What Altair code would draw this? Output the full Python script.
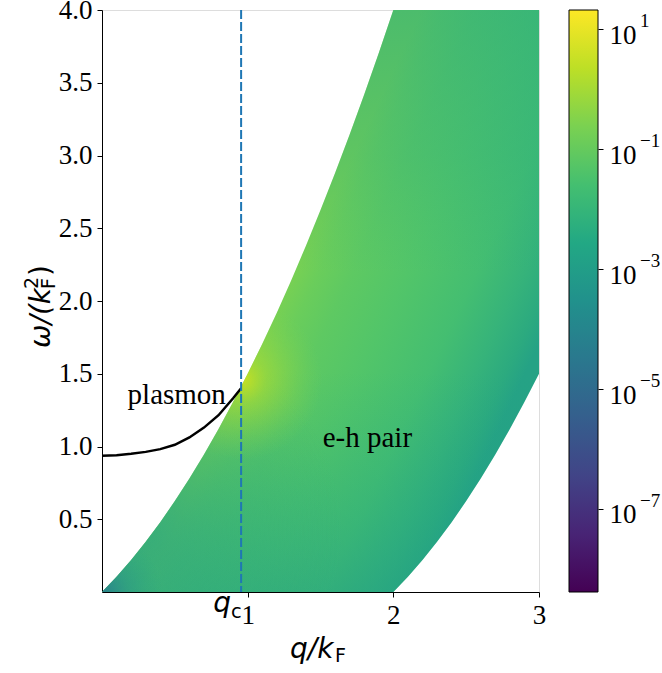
import altair as alt
import pandas as pd

# ---------------- data ----------------
# particle-hole continuum: lower / upper edge of the coloured region
q_grid = [0.0, 0.1, 0.2, 0.3, 0.4, 0.5, 0.6, 0.7, 0.8, 0.9, 1.0,
          1.1, 1.2, 1.3, 1.4, 1.5, 1.6, 1.7, 1.8, 1.9, 2.0,
          2.1, 2.2, 2.3, 2.4, 2.5, 2.6, 2.7, 2.8, 2.9, 3.0]
omega_upper = [0.0, 0.105, 0.22, 0.345, 0.48, 0.625, 0.78, 0.945, 1.12, 1.305, 1.5,
               1.705, 1.92, 2.145, 2.38, 2.625, 2.88, 3.145, 3.42, 3.705, 4.0,
               4.0, 4.0, 4.0, 4.0, 4.0, 4.0, 4.0, 4.0, 4.0, 4.0]
omega_lower = [0.0, 0.0, 0.0, 0.0, 0.0, 0.0, 0.0, 0.0, 0.0, 0.0, 0.0,
               0.0, 0.0, 0.0, 0.0, 0.0, 0.0, 0.0, 0.0, 0.0, 0.0,
               0.105, 0.22, 0.345, 0.48, 0.625, 0.78, 0.945, 1.12, 1.305, 1.5]

# plasmon branch
plasmon_q = [0.0, 0.1, 0.2, 0.3, 0.4, 0.5, 0.6, 0.7, 0.8, 0.9, 0.955]
plasmon_omega = [0.937, 0.940, 0.950, 0.963, 0.982, 1.012, 1.062, 1.13, 1.215, 1.332, 1.40]

# critical momentum q_c
q_c = [0.955]

# annotations
label_text = ["plasmon", "e-h pair"]
label_q = [0.513, 1.822]
label_omega = [1.292, 1.0]

# axes / colour bar
x_ticks = [1, 2, 3]
y_ticks = [0.5, 1.0, 1.5, 2.0, 2.5, 3.0, 3.5, 4.0]
cbar_min, cbar_max = 4.1e-9, 21.1
cbar_ticks = [1e1, 1e-1, 1e-3, 1e-5, 1e-7]
cbar_exponents = ["1", "\u22121", "\u22123", "\u22125", "\u22127"]

viridis = ["#440154", "#482475", "#414487", "#355f8d", "#2a788e", "#21918c",
           "#22a884", "#44bf70", "#7ad151", "#bddf26", "#fde725"]

# ---------------- styling ----------------
W, H = 437, 582
CB_GAP, CB_W = 30, 29
SERIF = "Liberation Serif"
MATH = "DejaVu Sans"

region_df = pd.DataFrame({"q": q_grid, "lo": omega_lower, "hi": omega_upper})
plasmon_df = pd.DataFrame({"q": plasmon_q, "w": plasmon_omega})
qc_df = pd.DataFrame({"q": q_c})
label_df = pd.DataFrame({"t": label_text, "q": label_q, "w": label_omega})

xs = alt.Scale(domain=[0, 3], nice=False, zero=False)
ys = alt.Scale(domain=[0, 4], nice=False, zero=False)
axis_common = dict(labelFont=SERIF, labelFontSize=27, labelColor="black",
                   tickColor="black", domainColor="black", tickSize=5,
                   grid=False, title=None)
x_axis = alt.Axis(values=x_ticks, format="d", labelPadding=5, labelFlush=False, **axis_common)
y_axis = alt.Axis(values=y_ticks, format=".1f", labelPadding=5, **axis_common)


def stops(pairs):
    return [{"offset": o, "color": c} for o, c in pairs]


# radial gradients are laid out in a square pattern covering the plot box
# (side = max(W, H)), hence the pixel -> unit conversion below
SQ = max(W, H)


def rad(px, py):
    return (px + (SQ - W) / 2) / SQ, (py + (SQ - H) / 2) / SQ


def radial(px, py, r, stop_list):
    cx, cy = rad(px, py)
    return {"gradient": "radial", "x1": cx, "y1": cy, "r1": 0,
            "x2": cx, "y2": cy, "r2": r / SQ, "stops": stops(stop_list)}


TEAL = "34,168,132"
grad_main = {"gradient": "linear", "x1": 0.367, "y1": 0.575, "x2": 0.818, "y2": 0.861,
             "stops": stops([(0.0, "#76d054"), (0.08, "#6acd5b"), (0.2, "#5ec962"),
                             (0.4, "#52c569"), (0.65, "#44be71"), (0.82, "#36b37a"),
                             (0.93, "#2caa7f"), (1.0, "#25a285")])}
grad_vert = {"gradient": "linear", "x1": 0, "y1": 0, "x2": 0, "y2": 1,
             "stops": stops([(0.0, f"rgba({TEAL},0.5)"), (0.25, f"rgba({TEAL},0.28)"),
                             (0.45, f"rgba({TEAL},0)"), (0.62, f"rgba({TEAL},0)"),
                             (0.75, "rgba(34,165,130,0.15)"), (0.86, "rgba(34,165,130,0.3)"),
                             (0.93, "rgba(34,162,132,0.4)"), (1.0, "rgba(34,160,132,0.52)")])}
grad_low = radial(40, 520, 200, [(0.0, "rgba(34,160,135,0.6)"), (0.5, "rgba(34,165,132,0.3)"),
                                 (1.0, "rgba(34,165,132,0)")])
grad_peak = radial(140, 370, 80, [(0.0, "rgba(205,225,30,0.95)"), (0.3, "rgba(170,220,50,0.6)"),
                                  (1.0, "rgba(127,211,78,0)")])
grad_corner = radial(0, H, 60, [(0.0, "rgba(40,125,142,0.9)"), (0.45, "rgba(38,145,138,0.45)"),
                                (1.0, "rgba(34,160,135,0)")])

base = alt.Chart(region_df).encode(
    x=alt.X("q:Q", scale=xs, axis=x_axis),
    y=alt.Y("lo:Q", scale=ys, axis=y_axis),
    y2="hi:Q",
)
region_layers = [base.mark_area(color=g)
                 for g in (grad_main, grad_vert, grad_low, grad_peak, grad_corner)]

plasmon = alt.Chart(plasmon_df).mark_line(color="black", strokeWidth=2.5).encode(
    x=alt.X("q:Q", scale=xs), y=alt.Y("w:Q", scale=ys))

qc_rule = alt.Chart(qc_df).mark_rule(color="#1f77b4", strokeWidth=2, strokeDash=[9, 3]).encode(
    x=alt.X("q:Q", scale=xs))

labels = alt.Chart(label_df).mark_text(font=SERIF, fontSize=29, color="black",
                                       align="center", baseline="alphabetic").encode(
    x=alt.X("q:Q", scale=xs), y=alt.Y("w:Q", scale=ys), text="t:N")

# q_c tick label (q with subscript c)
qc_q = alt.Chart(qc_df).mark_text(text="q", font=MATH, fontStyle="italic", fontSize=28,
                                  align="right", baseline="alphabetic", dx=-10, color="black").encode(
    x=alt.X("q:Q", scale=xs), y=alt.value(H + 20))
qc_c = alt.Chart(qc_df).mark_text(text="c", font=MATH, fontSize=19.5,
                                  align="left", baseline="alphabetic", dx=-10, color="black").encode(
    x=alt.X("q:Q", scale=xs), y=alt.value(H + 26))


def txt(s, x, y, size, italic=False, angle=0, dx=0, dy=0):
    kw = dict(text=s, font=MATH, fontSize=size, align="left", baseline="alphabetic",
              color="black", dx=dx, dy=dy)
    if italic:
        kw["fontStyle"] = "italic"
    if angle:
        kw["angle"] = angle
    return alt.Chart(pd.DataFrame({"a": [0]})).mark_text(**kw).encode(
        x=alt.value(x), y=alt.value(y))


# x title  q/k_F
xt = [txt("q/k", 188, H + 66, 28, italic=True), txt("F", 233, H + 70, 19)]
# y title  ω/(k_F^2), rotated
YX, YY = -52, 338
yt = [txt("\u03c9/(k", YX, YY, 28, italic=True, angle=270),
      txt("F", YX, YY, 19, angle=270, dx=59, dy=5),
      txt("2", YX, YY, 19, angle=270, dx=59, dy=-12),
      txt(")", YX, YY, 28, angle=270, dx=72)]

main = alt.layer(*region_layers, plasmon, qc_rule, labels, qc_q, qc_c, *xt, *yt)

# ---------------- colour bar (independent log scale, drawn right of the plot) ----------------
cb_df = pd.DataFrame({"lo": [cbar_min], "hi": [cbar_max]})
exp_df = pd.DataFrame({"v": cbar_ticks, "e": cbar_exponents})
cs = alt.Scale(type="log", domain=[cbar_min, cbar_max], nice=False)
cb_grad = {"gradient": "linear", "x1": 0, "y1": 1, "x2": 0, "y2": 0,
           "stops": stops([(i / 10, c) for i, c in enumerate(viridis)])}
cb_axis = alt.Axis(orient="right", offset=CB_GAP + CB_W, values=cbar_ticks, labelExpr="'10'",
                   labelFont=SERIF, labelFontSize=27, labelColor="black", labelAlign="left",
                   labelBaseline="alphabetic", labelOffset=14, labelPadding=6,
                   tickSize=5, tickColor="black", domain=False, grid=False, title=None)
cb_rect = alt.Chart(cb_df).mark_rect(color=cb_grad, stroke="black", strokeWidth=1).encode(
    y=alt.Y("lo:Q", scale=cs, axis=cb_axis), y2="hi:Q",
    x=alt.value(W + CB_GAP), x2=alt.value(W + CB_GAP + CB_W))
cb_exp = alt.Chart(exp_df).mark_text(font=SERIF, fontSize=19, align="left",
                                     baseline="alphabetic", dy=-2, color="black").encode(
    y=alt.Y("v:Q", scale=cs), x=alt.value(W + CB_GAP + CB_W + 42), text="e:N")
cbar = alt.layer(cb_rect, cb_exp)

chart = alt.layer(main, cbar).resolve_scale(y="independent").properties(
    width=W, height=H,
    autosize=alt.AutoSizeParams(type="none"),
    padding={"left": 102, "top": 10, "right": 123, "bottom": 81},
).configure_view(stroke="black", strokeWidth=1).configure(background="white")

chart.save("out.html", embed_options={"renderer": "svg", "actions": False})
